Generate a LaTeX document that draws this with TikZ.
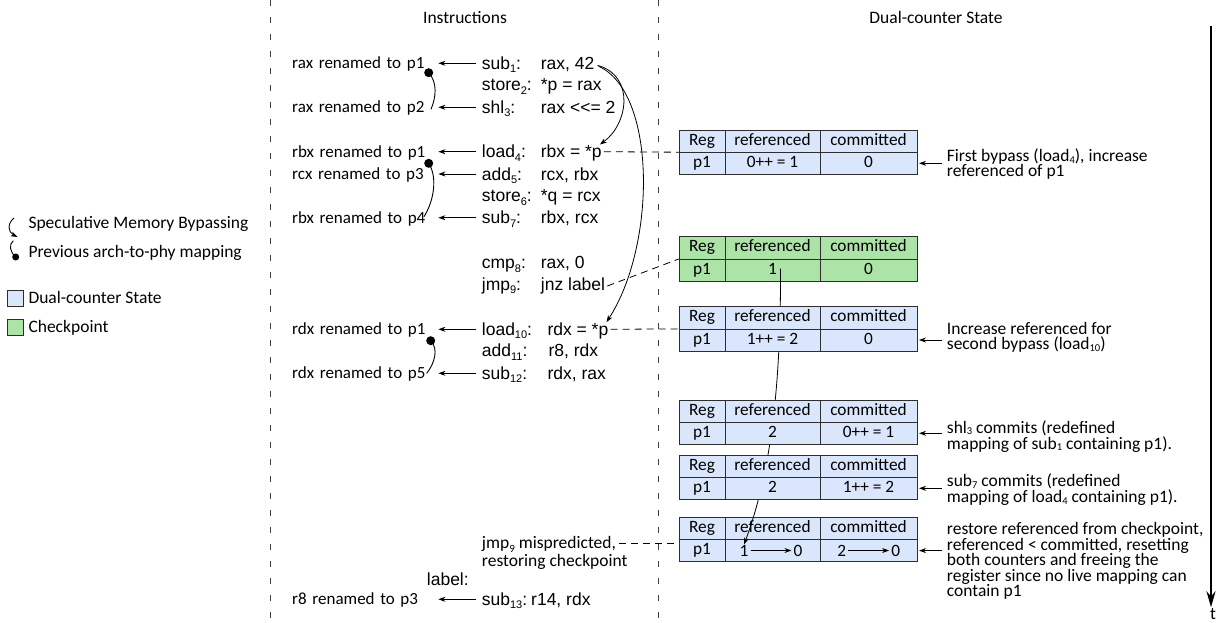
\documentclass[tikz,border=0pt]{standalone}
\usepackage{fontspec}
\setmainfont{Carlito}
\newfontfamily\arialf{Liberation Sans}
\usetikzlibrary{arrows.meta,calc}
\definecolor{dcblue}{RGB}{218,230,251}
\definecolor{ckgreen}{RGB}{172,227,166}
\definecolor{bordergray}{RGB}{45,45,45}
\newcommand\sbs[1]{\raisebox{-3.5pt}{\fontsize{11}{11}\selectfont #1}}
\newcommand\sbr[1]{\raisebox{-1.5pt}{\fontsize{10.5}{10.5}\selectfont #1}}
\tikzset{
  cell/.style={draw=bordergray,line width=0.8pt,inner sep=0pt,outer sep=0pt,minimum height=22.2pt,
    text height=11.5pt,text depth=3.5pt,font=\fontsize{17.3}{18}\selectfont},
  instr/.style={font=\arialf\fontsize{17.5}{20}\selectfont,inner sep=0pt,text height=13pt,text depth=1pt,anchor=west},
  annl/.style={font=\fontsize{17}{20}\selectfont,inner sep=0pt,text height=12pt,text depth=1pt,anchor=west,text width=145pt,align=left},
  annr/.style={font=\fontsize{17.5}{15.4}\selectfont,inner sep=0pt,anchor=north west,align=left},
  plain/.style={font=\fontsize{17.5}{20}\selectfont,inner sep=0pt,text height=12pt,text depth=1pt},
  arr/.style={-{Stealth[length=7pt,width=5pt]},line width=0.8pt},
  mapc/.style={line width=0.9pt},
  dotn/.style={circle,fill=black,inner sep=0pt,minimum size=9pt},
  dconn/.style={line width=0.8pt,dash pattern=on 7pt off 5pt},
  divider/.style={line width=0.9pt,black!75,dash pattern=on 6pt off 11pt},
  legsq/.style={draw=bordergray,line width=0.8pt,minimum size=16pt,inner sep=0pt},
  tnum/.style={inner sep=0pt,text height=11.5pt,text depth=0pt,font=\fontsize{17.3}{18}\selectfont},
  timearr/.style={line width=2.4pt,-{Stealth[length=16pt,width=9pt]}}
}
\newcommand\dctable[5]{%
  \node[cell,fill=#3,minimum width=46pt,anchor=north west] (#1a) at (679,#2) {Reg};
  \node[cell,fill=#3,minimum width=95pt,anchor=north west] (#1b) at (#1a.north east) {referenced};
  \node[cell,fill=#3,minimum width=97pt,anchor=north west] (#1c) at (#1b.north east) {committed};
  \node[cell,fill=#3,minimum width=46pt,anchor=north west] (#1d) at (#1a.south west) {p1};
  \node[cell,fill=#3,minimum width=95pt,anchor=north west] (#1e) at (#1d.north east) {#4};
  \node[cell,fill=#3,minimum width=97pt,anchor=north west] (#1f) at (#1e.north east) {#5};
}
\begin{document}
\begin{tikzpicture}[x=1pt,y=-1pt]
\useasboundingbox (0,0) rectangle (1225,623);
% dividers
\draw[divider] (270,0) -- (270,623);
\draw[divider] (658,0) -- (658,623);
% titles
\node[plain] (tInstr) at (465,18) {Instructions};
\node[plain] (tState) at (936,18) {Dual-counter State};
% legend
\node[plain,anchor=west] (lg1) at (28.3,223.3) {Speculative Memory Bypassing};
\node[plain,anchor=west] (lg2) at (28.3,251.7) {Previous arch-to-phy mapping};
\node[legsq,fill=dcblue] (lsq1) at (15.7,298.7) {};
\node[legsq,fill=ckgreen] (lsq2) at (15.7,327.2) {};
\node[plain,anchor=west] (lg3) at (28.3,298.3) {Dual-counter State};
\node[plain,anchor=west] (lg4) at (28.3,326.7) {Checkpoint};
\draw[arr,line width=0.9pt] (14,218) .. controls (7.5,223) and (7.5,232) .. (17.5,237);
\node[circle,fill=black,inner sep=0pt,minimum size=7pt] (ldot) at (15.7,257) {};
\draw[mapc] (13.3,240.7) .. controls (8.5,244.5) and (10,252) .. (ldot.center);
% instructions
\node[instr] (i1) at (481.7,63.3) {sub\sbs{1}:};
\node[instr] (i2) at (481.7,85) {store\sbs{2}:};
\node[instr] (i3) at (481.7,107.3) {shl\sbs{3}:};
\node[instr] (i4) at (481.7,151.7) {load\sbs{4}:};
\node[instr] (i5) at (481.7,174) {add\sbs{5}:};
\node[instr] (i6) at (481.7,195.7) {store\sbs{6}:};
\node[instr] (i7) at (481.7,217.7) {sub\sbs{7}:};
\node[instr] (i8) at (481.7,262.7) {cmp\sbs{8}:};
\node[instr] (i9) at (481.7,284) {jmp\sbs{9}:};
\node[instr] (i10) at (481.7,329.3) {load\sbs{10}:};
\node[instr] (i11) at (481.7,350.7) {add\sbs{11}:};
\node[instr] (i12) at (481.7,373.3) {sub\sbs{12}:};
\node[instr] (i13) at (481.7,599.3) {sub\sbs{13}:};
\node[instr] (o1) at (540.7,63.3) {rax, 42};
\node[instr] (o2) at (540.7,85) {*p = rax};
\node[instr] (o3) at (540.7,107.3) {rax <<= 2};
\node[instr] (o4) at (540.7,151.7) {rbx = *p};
\node[instr] (o5) at (540.7,174) {rcx, rbx};
\node[instr] (o6) at (540.7,195.7) {*q = rcx};
\node[instr] (o7) at (540.7,217.7) {rbx, rcx};
\node[instr] (o8) at (540.7,262.7) {rax, 0};
\node[instr] (o9) at (540.7,284) {jnz label};
\node[instr] (o10) at (547.3,329.3) {rdx = *p};
\node[instr] (o11) at (548.3,350.7) {r8, rdx};
\node[instr] (o12) at (547.3,373.3) {rdx, rax};
\node[instr] (o13) at (531,599.3) {r14, rdx};
\node[instr] (lbl) at (426.7,579) {label:};
\node[plain,anchor=west] (mis1) at (481.7,543.3) {jmp\sbs{9} mispredicted,};
\node[plain,anchor=west] (mis2) at (481.7,561) {restoring checkpoint};
% renaming annotations
\node[annl] (a1) at (292,63.3) {rax renamed to p1};
\node[annl] (a3) at (292,107.3) {rax renamed to p2};
\node[annl] (a4) at (292,151.7) {rbx renamed to p1};
\node[annl] (a5) at (292,174) {rcx renamed to p3};
\node[annl] (a7) at (292,217.7) {rbx renamed to p4};
\node[annl] (a10) at (292,329.3) {rdx renamed to p1};
\node[annl] (a12) at (292,373.3) {rdx renamed to p5};
\node[annl] (a13) at (292,599.3) {r8 renamed to p3};
\foreach \s/\t in {i1/a1,i3/a3,i4/a4,i5/a5,i7/a7,i10/a10,i12/a12,i13/a13}
  \draw[arr,shorten <=6pt,shorten >=1pt] (\s.west) -- (\t.east);
% previous mapping curves
\node[dotn] (m1) at (428.7,72.7) {};
\node[dotn] (m2) at (428.7,163.3) {};
\node[dotn] (m3) at (430.7,340.7) {};
\coordinate (e1) at (431,109.3);
\coordinate (e2) at (424,216.7);
\coordinate (e3) at (426.7,373.3);
\draw[mapc] (m1.center) .. controls +(9,10) and +(5,-12) .. (e1);
\draw[mapc] (m2.center) .. controls +(9,14) and +(10,-16) .. (e2);
\draw[mapc] (m3.center) .. controls +(8,8) and +(8,-10) .. (e3);
% bypass curves
\draw[arr] ([shift={(3,2)}]o1.east) .. controls +(38,11) and +(28,-20) .. ([shift={(-2,0)}]o4.north east);
\draw[arr] ([shift={(4,3)}]o1.east) .. controls +(58,26) and +(50,-77) .. ([shift={(-2,0)}]o10.north east);
% tables
\dctable{t2}{236.7}{ckgreen}{1}{0}
\dctable{t6}{517.3}{dcblue}{}{}
\node[tnum] (r6a) at (744,550.5) {1};
\node[tnum] (r6b) at (798,550.5) {0};
\node[tnum] (c6a) at (841.7,550.5) {2};
\node[tnum] (c6b) at (895.7,550.5) {0};
\draw[arr,shorten <=2pt,shorten >=2pt] (r6a) -- (r6b);
\draw[arr,shorten <=2pt,shorten >=2pt] (c6a) -- (c6b);
\draw[arr] ([shift={(8,-1.5)}]t2e.center) .. controls (781,400) and (768,480) .. (r6a.north);
\dctable{t1}{130}{dcblue}{0++ = 1}{0}
\dctable{t3}{306.7}{dcblue}{1++ = 2}{0}
\dctable{t4}{400}{dcblue}{2}{0++ = 1}
\dctable{t5}{455}{dcblue}{2}{1++ = 2}
% dashed connectors
\draw[dconn] ([xshift=2pt]o4.east) -- (t1a.south west);
\draw[dconn] ([shift={(2,2)}]o9.east) -- (t2a.south west);
\draw[dconn] ([xshift=2pt]o10.east) -- (t3a.south west);
\draw[dconn] ([xshift=3pt]mis1.east) -- (mis1.east -| t6a.west);
% right annotations
\node[annr] (n1) at (946.7,148.5) {First bypass (load\sbr{4}), increase\\referenced of p1};
\node[annr] (n2) at (946.7,321.8) {Increase referenced for\\second bypass (load\sbr{10})};
\node[annr,font=\fontsize{17.5}{16}\selectfont] (n3) at (946.7,420.5) {shl\sbr{3} commits (redefined\\mapping of sub\sbr{1} containing p1).};
\node[annr,font=\fontsize{17.5}{16}\selectfont] (n4) at (946.7,473.8) {sub\sbr{7} commits (redefined\\mapping of load\sbr{4} containing p1).};
\node[annr] (n5) at (946.7,522.5) {restore referenced from checkpoint,\\referenced < committed, resetting\\both counters and freeing the\\register since no live mapping can\\contain p1};
\foreach \s/\t in {n1/t1f,n2/t3f,n3/t4f,n4/t5f,n5/t6f}
  \draw[arr,shorten <=5pt,shorten >=2pt] (\t.east -| \s.west) -- (\t.east);
% time axis
\coordinate (ttop) at (1211,26);
\node[plain] (tl) at (1213,614) {t};
\draw[timearr] (ttop) -- (ttop |- tl.north);
\end{tikzpicture}
\end{document}
